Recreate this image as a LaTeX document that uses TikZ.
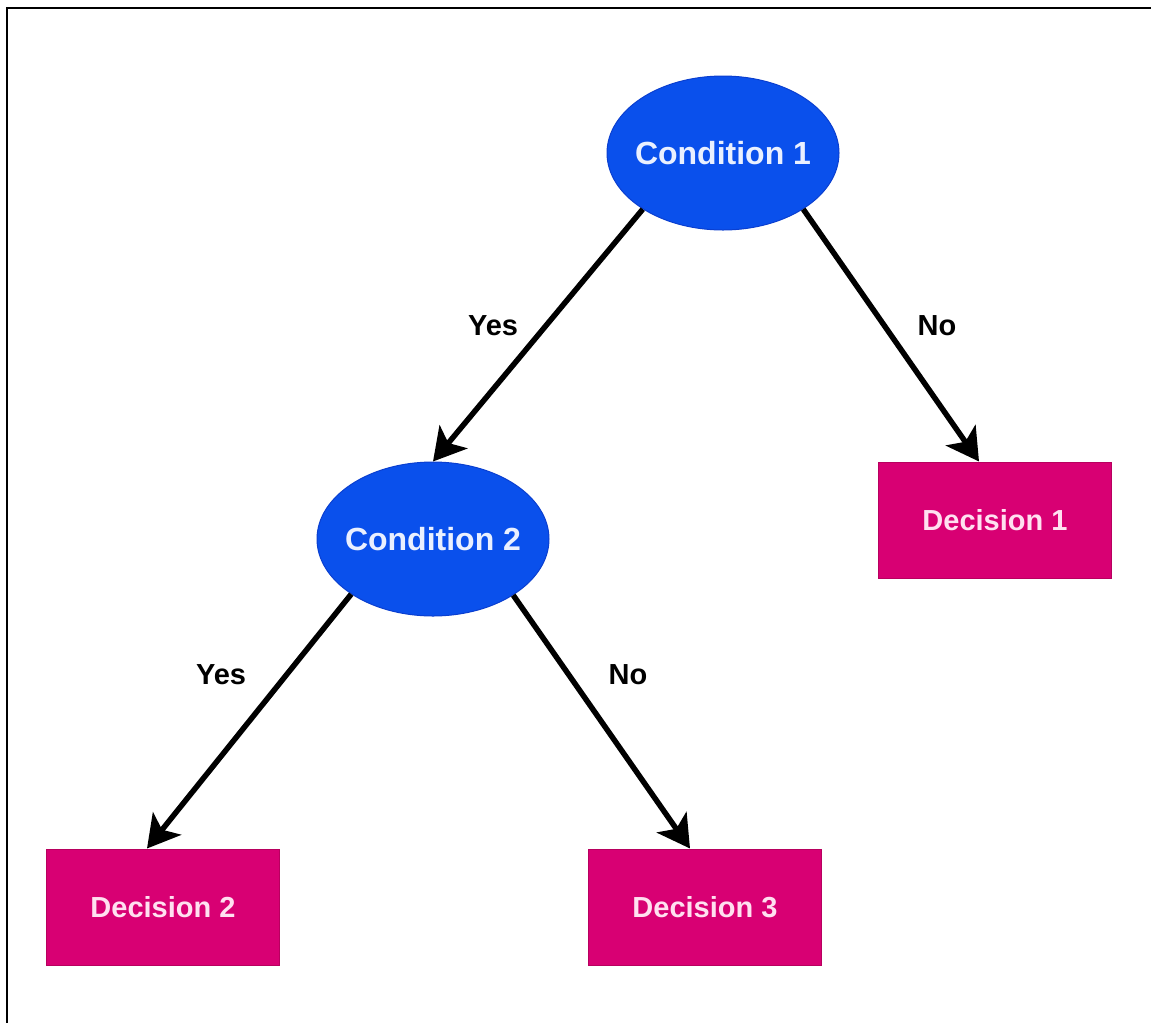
\documentclass[tikz,border=0pt]{standalone}
\usepackage{fontspec}
\setmainfont{Liberation Sans}
\usetikzlibrary{shapes.geometric,arrows.meta}
\definecolor{condblue}{HTML}{0A50EC}
\definecolor{condline}{HTML}{0A3FD0}
\definecolor{condtext}{HTML}{EAF0FF}
\definecolor{decred}{HTML}{D80073}
\definecolor{decline}{HTML}{B8005F}
\definecolor{dectext}{HTML}{FFE0F0}
\begin{document}
\begin{tikzpicture}[x=0.5pt,y=-0.5pt]
\useasboundingbox (0,0) rectangle (1151,1023);
\draw[line width=1pt] (1151,8) -- (7,8) -- (7,1023);
\tikzstyle{every node}=[font=\bfseries\fontsize{14.5}{17}\selectfont];
\tikzstyle{cond}=[ellipse,fill=condblue,draw=condline,line width=0.5pt,minimum width=116pt,minimum height=77pt,inner xsep=-20pt,inner ysep=0pt,text=condtext,font=\bfseries\fontsize{16}{19}\selectfont]
\tikzstyle{dec}=[rectangle,fill=decred,draw=decline,line width=0.5pt,minimum width=116.5pt,minimum height=58pt,inner sep=0pt,text=dectext]
\tikzstyle{branch}=[line width=2.75pt,-{Stealth[length=16pt,width=18pt,inset=4pt]}]
\node[cond] (c1) at (723,153) {Condition 1};
\node[cond] (c2) at (433,539) {Condition 2};
\node[dec] (d1) at (995,520) {Decision 1};
\node[dec] (d2) at (163,907) {Decision 2};
\node[dec] (d3) at (705,907) {Decision 3};
\draw[branch] (c1.-145) -- (c2.north);
\draw[branch] (c1.-35) -- ([xshift=-8pt]d1.north);
\draw[branch] (c2.-146) -- ([xshift=-8pt]d2.north);
\draw[branch] (c2.-35) -- ([xshift=-7.5pt]d3.north);
\node (y1) at (493,326) {Yes};
\node (n1) at (937,326) {No};
\node (y2) at (221,675) {Yes};
\node (n2) at (628,675) {No};
\end{tikzpicture}
\end{document}
